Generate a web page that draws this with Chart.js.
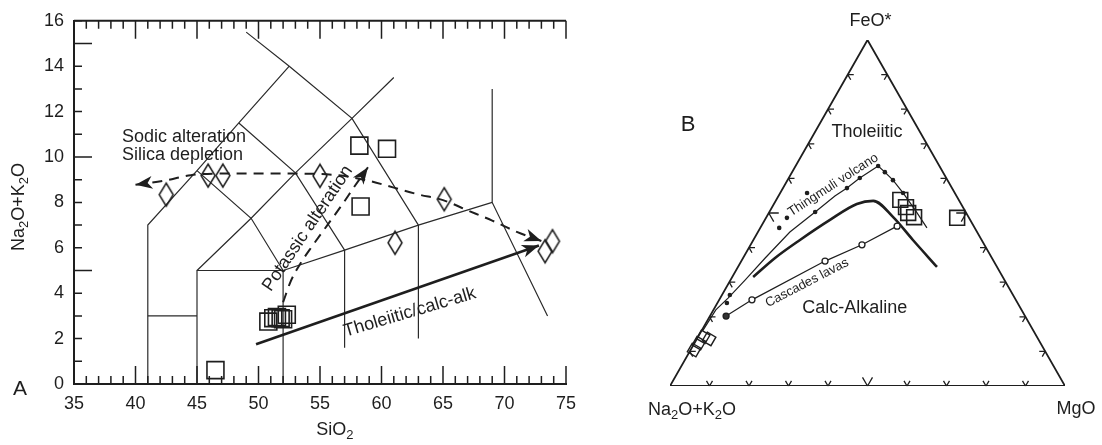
<!DOCTYPE html>
<html>
<head>
<meta charset="utf-8">
<script src="https://cdn.jsdelivr.net/npm/chart.js@4.4.1/dist/chart.umd.min.js"></script>
<style>
  html, body { margin: 0; padding: 0; background: #fff; }
  #wrap { position: relative; width: 1102px; height: 445px; }
  canvas { position: absolute; top: 0; }
  #tas { left: 0; }
  #afm { left: 620px; }
</style>
</head>
<body>
<div id="wrap">
  <canvas id="tas" width="620" height="445"></canvas>
  <canvas id="afm" width="482" height="445"></canvas>
</div>
<script>
// ---- A: total alkali vs silica ----
const diamondSiO2 = [42.5, 45.9, 47.1, 55.0, 61.1, 65.1, 73.3, 73.9];
const diamondAlk = [8.34, 9.18, 9.18, 9.17, 6.22, 8.14, 5.85, 6.29];
const squareSiO2 = [50.8, 51.2, 51.5, 51.8, 52.0, 52.3, 46.5, 58.2, 60.45, 58.3];
const squareAlk = [2.75, 2.9, 2.95, 2.9, 2.85, 3.05, 0.61, 10.5, 10.36, 7.82];

const sodicSiO2 = [40, 42.3, 44.5, 47, 52, 56, 59, 61, 63, 65, 67, 69, 71, 73];
const sodicAlk = [8.78, 8.95, 9.2, 9.27, 9.27, 9.22, 8.95, 8.65, 8.35, 8.1, 7.65, 7.2, 6.7, 6.3];
const potassicSiO2 = [52.0, 52.6, 53.4, 54.4, 55.6, 56.8, 57.8, 58.9];
const potassicAlk = [3.6, 4.5, 5.3, 6.1, 7.0, 7.9, 8.7, 9.55];
const trendSiO2 = [49.8, 72.8];
const trendAlk = [1.75, 6.1];

// field boundaries (SiO2, Na2O+K2O)
const tasBoundaries = [
  [[41, 0], [41, 7], [45, 9.4], [48.4, 11.5], [52.5, 14]],
  [[41, 3], [45, 3]],
  [[45, 0], [45, 5], [52, 5], [52, 0]],
  [[45, 5], [49.4, 7.3], [53, 9.3], [57.6, 11.7], [61, 13.5]],
  [[45, 9.4], [49.4, 7.3], [52, 5]],
  [[48.4, 11.5], [53, 9.3], [57, 5.9]],
  [[49, 15.5], [52.5, 14], [57.6, 11.7], [63, 7]],
  [[52, 5], [57, 5.9], [63, 7], [69, 8]],
  [[57, 5.9], [57, 1.6]],
  [[63, 7], [63, 2]],
  [[69, 13], [69, 8], [73.5, 3]]
];

// ---- B: AFM (wt% FeO*, MgO; alkalis = remainder) ----
const thingmuliFeO = [16, 22, 25.4, 30.6, 37, 44.5, 50.3, 54.9, 57.2, 60.1, 63.6, 61.8, 59.5, 55.8, 50.9, 45.7];
const thingmuliMgO = [0.3, 0.6, 2.0, 3.7, 5.6, 8.1, 11.6, 14.3, 16.2, 18.0, 20.9, 23.5, 26.7, 31.1, 36.6, 42.2];
const thingmuliDotFeO = [24.0, 26.3, 45.7, 48.6, 55.8, 50.3, 57.2, 60.1, 63.6, 61.8, 59.5, 55.8];
const thingmuliDotMgO = [2.4, 2.0, 4.8, 5.3, 6.8, 11.6, 16.2, 18.0, 20.9, 23.5, 26.7, 31.1];
const dividerFeO = [31.5, 37.0, 42.2, 48.0, 52.6, 53.5, 48.8, 42.2, 34.4];
const dividerMgO = [5.3, 8.1, 11.8, 16.5, 21.0, 24.7, 32.1, 40.4, 50.4];
const cascadesFeO = [20.2, 24.9, 36.1, 40.8, 46.2];
const cascadesMgO = [4.1, 8.3, 21.2, 28.2, 34.4];
const afmSquareFeO = [53.8, 51.7, 50.0, 48.8, 48.6];
const afmSquareMgO = [31.4, 33.9, 35.3, 37.4, 48.4];
const afmTiltFeO = [10.4, 12.4, 14.2, 13.6];
const afmTiltMgO = [0.9, 1.1, 1.3, 3.1];

const FONT = '"Liberation Sans", Arial, Helvetica, sans-serif';
const INK = '#1e1e1e';

const pts = (xs, ys) => xs.map((v, i) => ({ x: v, y: ys[i] }));
const tern = (feo, mgo) => feo.map((f, i) => ({ x: mgo[i] / 100 + f / 200, y: f / 100 }));

function tallDiamond(w, h, lw) {
  const c = document.createElement('canvas');
  c.width = w + 4; c.height = h + 4;
  const g = c.getContext('2d');
  const cx = c.width / 2, cy = c.height / 2;
  g.strokeStyle = INK; g.lineWidth = lw;
  g.beginPath();
  g.moveTo(cx, cy - h / 2); g.lineTo(cx + w / 2, cy);
  g.lineTo(cx, cy + h / 2); g.lineTo(cx - w / 2, cy);
  g.closePath(); g.stroke();
  return c;
}

// text with subscripts: parts = [[text, isSub], ...]
function chemText(ctx, parts, x, y, size) {
  const big = size + 'px ' + FONT, small = Math.round(size * 0.7) + 'px ' + FONT;
  let total = 0;
  parts.forEach(p => { ctx.font = p[1] ? small : big; total += ctx.measureText(p[0]).width; });
  let cx = x - total / 2;
  ctx.textAlign = 'left';
  ctx.textBaseline = 'middle';
  parts.forEach(p => {
    ctx.font = p[1] ? small : big;
    ctx.fillText(p[0], cx, p[1] ? y + size * 0.32 : y);
    cx += ctx.measureText(p[0]).width;
  });
}

function arrowHead(ctx, x0, y0, x1, y1, len, half) {
  const a = Math.atan2(y1 - y0, x1 - x0);
  ctx.save();
  ctx.translate(x1, y1); ctx.rotate(a);
  ctx.beginPath();
  ctx.moveTo(0, 0); ctx.lineTo(-len, -half); ctx.lineTo(-len * 0.72, 0); ctx.lineTo(-len, half);
  ctx.closePath(); ctx.fill();
  ctx.restore();
}

function rotatedText(ctx, s, x, y, deg, size) {
  ctx.save();
  ctx.translate(x, y); ctx.rotate(deg * Math.PI / 180);
  ctx.font = size + 'px ' + FONT;
  ctx.textAlign = 'center'; ctx.textBaseline = 'middle';
  ctx.fillText(s, 0, 0);
  ctx.restore();
}

const tasDecor = {
  id: 'tasDecor',
  afterDatasetsDraw(chart) {
    const { ctx, chartArea: ca, scales: { x, y } } = chart;
    const X = v => x.getPixelForValue(v), Y = v => y.getPixelForValue(v);
    ctx.save();
    ctx.strokeStyle = INK; ctx.fillStyle = INK;

    // frame top edge
    ctx.lineWidth = 2;
    ctx.beginPath(); ctx.moveTo(ca.left, ca.top); ctx.lineTo(ca.right, ca.top); ctx.stroke();

    // inward ticks
    ctx.lineWidth = 1.5;
    ctx.beginPath();
    for (let v = 35; v <= 75; v++) {
      const px = X(v), len = v % 5 === 0 ? 18 : 8;
      ctx.moveTo(px, ca.bottom); ctx.lineTo(px, ca.bottom - len);
      ctx.moveTo(px, ca.top); ctx.lineTo(px, ca.top + len);
    }
    for (let v = 1; v <= 16; v++) {
      const py = Y(v), len = v % 5 === 0 ? 18 : 8;
      ctx.moveTo(ca.left, py); ctx.lineTo(ca.left + len, py);
    }
    ctx.stroke();

    // arrow heads
    const head = (xs, ys, i0, i1) => arrowHead(ctx, X(xs[i0]), Y(ys[i0]), X(xs[i1]), Y(ys[i1]), 17, 6.5);
    head(sodicSiO2, sodicAlk, 1, 0);
    head(sodicSiO2, sodicAlk, sodicSiO2.length - 2, sodicSiO2.length - 1);
    head(potassicSiO2, potassicAlk, potassicSiO2.length - 2, potassicSiO2.length - 1);
    head(trendSiO2, trendAlk, 0, 1);

    // annotations
    ctx.font = '18px ' + FONT;
    ctx.textAlign = 'left'; ctx.textBaseline = 'middle';
    ctx.fillText('Sodic alteration', X(38.9), Y(10.87));
    ctx.fillText('Silica depletion', X(38.9), Y(10.09));
    rotatedText(ctx, 'Potassic alteration', X(54.0), Y(6.85), -56, 18);
    rotatedText(ctx, 'Tholeiitic/calc-alk', X(62.3), Y(3.15), -16.5, 18);

    // axis titles and panel letter
    chemText(ctx, [['SiO', false], ['2', true]], X(56.2), Y(-2.02), 18);
    ctx.save();
    ctx.translate(X(30.5), Y(7.8)); ctx.rotate(-Math.PI / 2);
    chemText(ctx, [['Na', false], ['2', true], ['O+K', false], ['2', true], ['O', false]], 0, 0, 18);
    ctx.restore();
    ctx.font = '21px ' + FONT;
    ctx.textAlign = 'center';
    ctx.fillText('A', X(30.6), Y(-0.22));
    ctx.restore();
  }
};

new Chart(document.getElementById('tas'), {
  type: 'scatter',
  data: {
    datasets: [
      ...tasBoundaries.map(seg => ({
        data: seg.map(p => ({ x: p[0], y: p[1] })),
        showLine: true, borderColor: '#2a2a2a', borderWidth: 1.2, pointRadius: 0, order: 5
      })),
      {
        data: pts(sodicSiO2, sodicAlk), showLine: true, borderColor: INK, borderWidth: 2,
        borderDash: [10, 7], cubicInterpolationMode: 'monotone', pointRadius: 0, order: 4
      },
      {
        data: pts(potassicSiO2, potassicAlk), showLine: true, borderColor: INK, borderWidth: 2,
        borderDash: [10, 7], cubicInterpolationMode: 'monotone', pointRadius: 0, order: 4
      },
      {
        data: pts(trendSiO2, trendAlk), showLine: true, borderColor: INK, borderWidth: 2.6,
        pointRadius: 0, order: 4
      },
      {
        data: pts(diamondSiO2, diamondAlk), pointStyle: tallDiamond(14, 23, 1.5),
        pointRadius: 12, order: 1
      },
      {
        data: pts(squareSiO2, squareAlk), pointStyle: 'rect', pointRadius: 12,
        pointBorderWidth: 1.6, pointBorderColor: INK, pointBackgroundColor: 'rgba(0,0,0,0)', order: 1
      }
    ]
  },
  options: {
    responsive: false,
    animation: false,
    events: [],
    layout: { padding: { top: 17, right: 54, left: 0, bottom: 0 } },
    plugins: { legend: { display: false }, tooltip: { enabled: false } },
    scales: {
      x: {
        type: 'linear', min: 35, max: 75,
        afterFit: s => { s.height = 61; },
        grid: { drawOnChartArea: false, drawTicks: false },
        border: { display: true, color: INK, width: 2 },
        ticks: { stepSize: 5, padding: 9, color: INK, font: { family: FONT, size: 18 } }
      },
      y: {
        type: 'linear', min: 0, max: 16,
        afterFit: s => { s.width = 74; },
        grid: { drawOnChartArea: false, drawTicks: false },
        border: { display: true, color: INK, width: 2 },
        ticks: { stepSize: 2, padding: 10, color: INK, font: { family: FONT, size: 18 } }
      }
    }
  },
  plugins: [tasDecor]
});

const afmDecor = {
  id: 'afmDecor',
  afterDatasetsDraw(chart) {
    const { ctx, scales: { x, y } } = chart;
    const P = (a, b) => [x.getPixelForValue(a), y.getPixelForValue(b)];
    ctx.save();
    ctx.strokeStyle = INK; ctx.fillStyle = INK; ctx.lineWidth = 1.3;

    // edge ticks every 10 %
    const arms = (p, dirs, len) => {
      dirs.forEach(d => { ctx.moveTo(p[0], p[1]); ctx.lineTo(p[0] + d[0] * len, p[1] + d[1] * len); });
    };
    const s = Math.sqrt(3) / 2;
    ctx.beginPath();
    for (let i = 1; i < 10; i++) {
      const t = i / 10, len = i === 5 ? 10 : 6;
      arms(P(t, 0), [[-0.5, -s], [0.5, -s]], len);
      arms(P(t / 2, t), [[1, 0], [0.5, s]], len);
      arms(P(1 - t / 2, t), [[-1, 0], [-0.5, s]], len);
    }
    ctx.stroke();

    // labels
    ctx.font = '18px ' + FONT;
    ctx.textAlign = 'center'; ctx.textBaseline = 'middle';
    const apex = P(0.5, 1), left = P(0, 0), right = P(1, 0);
    ctx.fillText('FeO*', apex[0] + 3, apex[1] - 19);
    ctx.fillText('MgO', right[0] + 11, right[1] + 23);
    chemText(ctx, [['Na', false], ['2', true], ['O+K', false], ['2', true], ['O', false]], left[0] + 22, left[1] + 24, 18);
    ctx.font = '18px ' + FONT; ctx.textAlign = 'center';
    let q = P(0.499, 0.734); ctx.fillText('Tholeiitic', q[0], q[1]);
    q = P(0.468, 0.225); ctx.fillText('Calc-Alkaline', q[0], q[1]);
    ctx.font = '22px ' + FONT;
    q = P(0.0456, 0.754); ctx.fillText('B', q[0], q[1]);
    q = P(0.413, 0.581); rotatedText(ctx, 'Thingmuli volcano', q[0], q[1], -33, 13);
    q = P(0.347, 0.298); rotatedText(ctx, 'Cascades lavas', q[0], q[1], -27.5, 13);
    ctx.restore();
  }
};

new Chart(document.getElementById('afm'), {
  type: 'scatter',
  data: {
    datasets: [
      {
        data: [{ x: 0, y: 0 }, { x: 0.5, y: 1 }, { x: 1, y: 0 }, { x: 0, y: 0 }],
        showLine: true, borderColor: INK, borderWidth: 1.8, pointRadius: 0, order: 6
      },
      {
        data: tern(dividerFeO, dividerMgO), showLine: true, borderColor: INK, borderWidth: 2.6,
        cubicInterpolationMode: 'monotone', pointRadius: 0, order: 5
      },
      {
        data: tern(thingmuliFeO, thingmuliMgO), showLine: true, borderColor: INK, borderWidth: 1.2,
        pointRadius: 0, order: 5
      },
      {
        data: tern(thingmuliDotFeO, thingmuliDotMgO), pointRadius: 2.3,
        pointBackgroundColor: INK, pointBorderWidth: 0, order: 3
      },
      {
        data: tern(cascadesFeO, cascadesMgO), showLine: true, borderColor: INK, borderWidth: 1.2,
        pointRadius: 3, pointBorderWidth: 1.3, pointBorderColor: INK,
        pointBackgroundColor: ['#333', '#fff', '#fff', '#fff', '#fff'], order: 4
      },
      {
        data: tern(afmSquareFeO, afmSquareMgO), pointStyle: 'rect', pointRadius: 10.5,
        pointBorderWidth: 1.6, pointBorderColor: INK, pointBackgroundColor: 'rgba(0,0,0,0)', order: 1
      },
      {
        data: tern(afmTiltFeO, afmTiltMgO), pointStyle: 'rect', pointRotation: 30, pointRadius: 7,
        pointBorderWidth: 1.4, pointBorderColor: INK, pointBackgroundColor: 'rgba(0,0,0,0)', order: 1
      }
    ]
  },
  options: {
    responsive: false,
    animation: false,
    events: [],
    layout: { padding: { left: 50, right: 37, top: 40, bottom: 59 } },
    plugins: { legend: { display: false }, tooltip: { enabled: false } },
    scales: {
      x: { type: 'linear', min: 0, max: 1, display: false },
      y: { type: 'linear', min: 0, max: 1, display: false }
    }
  },
  plugins: [afmDecor]
});
</script>
</body>
</html>
